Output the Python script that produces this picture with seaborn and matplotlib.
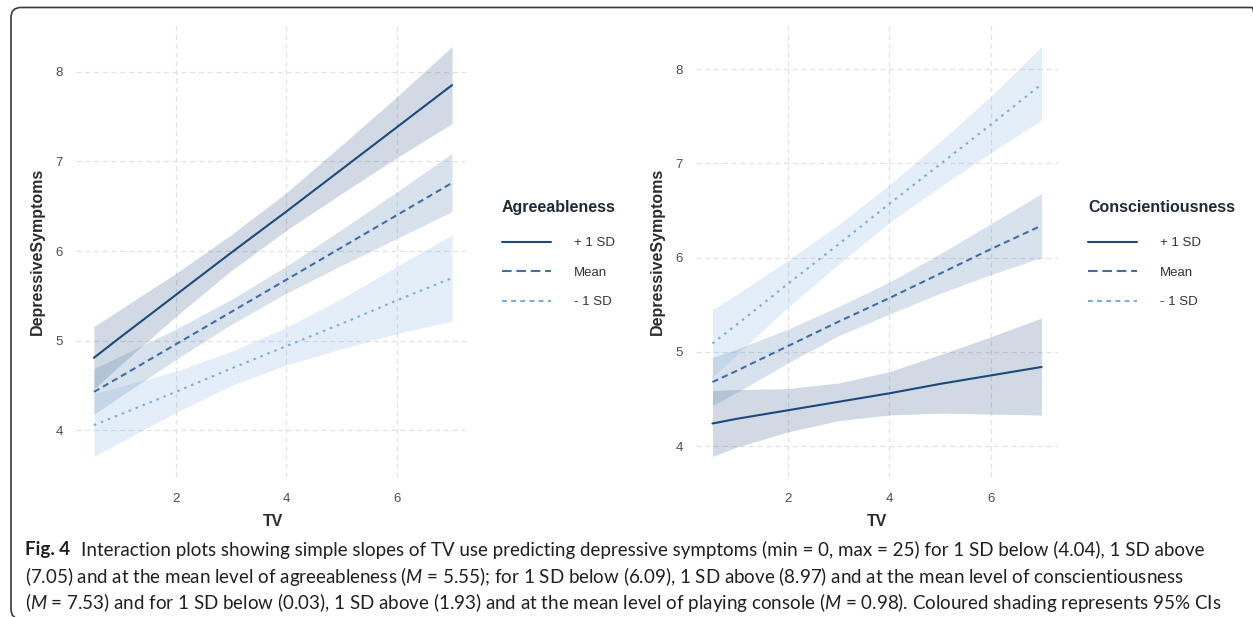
import matplotlib
matplotlib.use("Agg")
import numpy as np
import pandas as pd
import seaborn as sns
import matplotlib.pyplot as plt
from matplotlib.lines import Line2D
from matplotlib.patches import FancyBboxPatch
from matplotlib.transforms import IdentityTransform

# ---------------- data ----------------
tv = [0.52, 1, 2, 3, 4, 5, 6, 7]
levels = ["+ 1 SD", "Mean", "- 1 SD"]
x_ticks = [2, 4, 6]
y_ticks = [4, 5, 6, 7, 8]

# Agreeableness panel
agr_fit_plus = [4.81, 5.04, 5.51, 5.98, 6.44, 6.91, 7.38, 7.85]
agr_low_plus = [4.46, 4.73, 5.27, 5.78, 6.23, 6.64, 7.04, 7.42]
agr_up_plus = [5.16, 5.35, 5.75, 6.18, 6.65, 7.18, 7.72, 8.28]
agr_fit_mean = [4.43, 4.60, 4.96, 5.32, 5.68, 6.04, 6.40, 6.76]
agr_low_mean = [4.18, 4.38, 4.79, 5.18, 5.53, 5.84, 6.14, 6.44]
agr_up_mean = [4.69, 4.83, 5.13, 5.46, 5.83, 6.24, 6.66, 7.09]
agr_fit_minus = [4.06, 4.18, 4.43, 4.69, 4.94, 5.19, 5.45, 5.70]
agr_low_minus = [3.71, 3.87, 4.20, 4.50, 4.73, 4.91, 5.08, 5.22]
agr_up_minus = [4.41, 4.49, 4.66, 4.88, 5.15, 5.47, 5.83, 6.18]

# Conscientiousness panel
con_fit_plus = [4.24, 4.29, 4.38, 4.47, 4.56, 4.66, 4.75, 4.84]
con_low_plus = [3.89, 3.99, 4.15, 4.27, 4.33, 4.35, 4.34, 4.33]
con_up_plus = [4.59, 4.60, 4.61, 4.67, 4.79, 4.97, 5.16, 5.36]
con_fit_mean = [4.68, 4.80, 5.06, 5.32, 5.57, 5.83, 6.09, 6.34]
con_low_mean = [4.43, 4.57, 4.88, 5.17, 5.40, 5.62, 5.82, 6.00]
con_up_mean = [4.94, 5.03, 5.24, 5.48, 5.74, 6.04, 6.36, 6.68]
con_fit_minus = [5.09, 5.29, 5.72, 6.14, 6.57, 6.99, 7.41, 7.84]
con_low_minus = [4.73, 4.97, 5.47, 5.93, 6.37, 6.75, 7.11, 7.46]
con_up_minus = [5.45, 5.61, 5.97, 6.35, 6.77, 7.23, 7.71, 8.24]

caption_label = "Fig. 4"
caption_lines = [
    r"Interaction plots showing simple slopes of TV use predicting depressive symptoms (min = 0, max = 25) for 1 SD below (4.04), 1 SD above",
    r"(7.05) and at the mean level of agreeableness ($M$ = 5.55); for 1 SD below (6.09), 1 SD above (8.97) and at the mean level of conscientiousness",
    r"($M$ = 7.53) and for 1 SD below (0.03), 1 SD above (1.93) and at the mean level of playing console ($M$ = 0.98). Coloured shading represents 95% CIs",
]

# ---------------- style ----------------
sns.set_theme(style="white")
plt.rcParams["font.family"] = ["Liberation Sans", "DejaVu Sans"]
plt.rcParams["mathtext.fontset"] = "custom"
plt.rcParams["mathtext.rm"] = "Lato"
plt.rcParams["mathtext.it"] = "Lato:italic"
plt.rcParams["mathtext.bf"] = "Lato:bold"

palette = {"+ 1 SD": "#1c4a7c", "Mean": "#3f6fa8", "- 1 SD": "#74aee0"}
line_dashes = {"+ 1 SD": "", "Mean": (3.0, 2.0), "- 1 SD": (1.2, 2.4)}
legend_dashes = {"+ 1 SD": None, "Mean": (4.6, 2.3), "- 1 SD": (2.3, 2.1)}

W, H = 1253, 617
fig = plt.figure(figsize=(W / 100, H / 100), dpi=100)
fig.patch.set_facecolor("white")


def px_axes(x0, x1, y0, y1):
    return fig.add_axes([x0 / W, 1 - y1 / H, (x1 - x0) / W, (y1 - y0) / H])


ax1 = px_axes(76, 470, 26, 477)
ax2 = px_axes(696, 1058, 26, 477)

panels = [
    (ax1, "Agreeableness", 502,
     [agr_fit_plus, agr_fit_mean, agr_fit_minus],
     [agr_low_plus, agr_low_mean, agr_low_minus],
     [agr_up_plus, agr_up_mean, agr_up_minus]),
    (ax2, "Conscientiousness", 1088,
     [con_fit_plus, con_fit_mean, con_fit_minus],
     [con_low_plus, con_low_mean, con_low_minus],
     [con_up_plus, con_up_mean, con_up_minus]),
]

for ax, title, leg_x, fits, lows, ups in panels:
    # ribbons
    for lev, lo, up in zip(levels, lows, ups):
        ax.fill_between(tv, lo, up, color=palette[lev], alpha=0.2, linewidth=0)
    # lines
    df = pd.DataFrame({
        "TV": np.tile(tv, len(levels)),
        "fit": np.concatenate(fits),
        "level": np.repeat(levels, len(tv)),
    })
    sns.lineplot(data=df, x="TV", y="fit", hue="level", style="level",
                 hue_order=levels, style_order=levels, palette=palette,
                 dashes=line_dashes, linewidth=1.5, errorbar=None,
                 legend=False, ax=ax)
    ax.set_xticks(x_ticks)
    ax.set_yticks(y_ticks)
    ax.grid(True, color="#e2e2e2", linestyle=(0, (4, 3)), linewidth=0.9)
    ax.set_axisbelow(True)
    for s in ax.spines.values():
        s.set_visible(False)
    ax.tick_params(axis="x", length=0, pad=11.5, labelsize=9.5, colors="#4d4d4d")
    ax.tick_params(axis="y", length=0, pad=9.4, labelsize=9.5, colors="#4d4d4d")
    ax.set_xlabel("TV", fontsize=11.5, fontweight="bold", color="#2b2b2b", va="center")
    ax.set_ylabel("DepressiveSymptoms", fontsize=11.5, fontweight="bold",
                  color="#2b2b2b", va="center")
    bb = ax.get_position()
    ax_w_px = bb.width * W
    ax_h_px = bb.height * H
    ax.xaxis.set_label_coords(0.5, -44 / ax_h_px)
    ax.yaxis.set_label_coords(-39 / ax_w_px, 0.5)

    handles = []
    for lev in levels:
        h = Line2D([0], [0], color=palette[lev], lw=1.5)
        if legend_dashes[lev] is not None:
            h.set_dashes(legend_dashes[lev])
        handles.append(h)
    leg = ax.legend(handles, levels, title=title, loc="upper left",
                    bbox_to_anchor=(leg_x / W, 1 - 200 / H), bbox_transform=fig.transFigure,
                    frameon=False, borderpad=0, borderaxespad=0, alignment="left",
                    handlelength=3.7, handletextpad=1.75, labelspacing=1.3,
                    fontsize=9.5, labelcolor="#333333",
                    title_fontproperties={"weight": "bold", "size": 11.5})
    leg.get_title().set_color("#1f2a36")
    leg._legend_box.sep = 16

# ---------------- caption ----------------
cap_y = [550, 576, 602]
x0 = 25
fs0 = 14
lab = fig.text(x0 / W, 1 - cap_y[0] / H, caption_label, fontsize=fs0, family="Lato",
               fontweight="bold", color="#231f20", ha="left", va="center")
texts = []
for line, y in zip(caption_lines, cap_y):
    t = fig.text(x0 / W, 1 - y / H, line, fontsize=fs0, family="Lato",
                 color="#231f20", ha="left", va="center")
    texts.append(t)
fig.canvas.draw()
renderer = fig.canvas.get_renderer()
w_lab = lab.get_window_extent(renderer).width
w_rest = texts[0].get_window_extent(renderer).width
gap = 0.55 * fs0 * 100 / 72
scale = (1207 - x0) / (w_lab + gap + w_rest)
lab.set_fontsize(fs0 * scale)
for t in texts:
    t.set_fontsize(fs0 * scale)
texts[0].set_x((x0 + (w_lab + gap) * scale) / W)

# ---------------- border box ----------------
box = FancyBboxPatch((11, -2), 1262 - 11, 609.5 + 2,
                     boxstyle="round,pad=0,rounding_size=10",
                     transform=IdentityTransform(), fill=False,
                     edgecolor="#3a3a3a", linewidth=1.2)
fig.add_artist(box)

fig.savefig("out.png", dpi=100)
